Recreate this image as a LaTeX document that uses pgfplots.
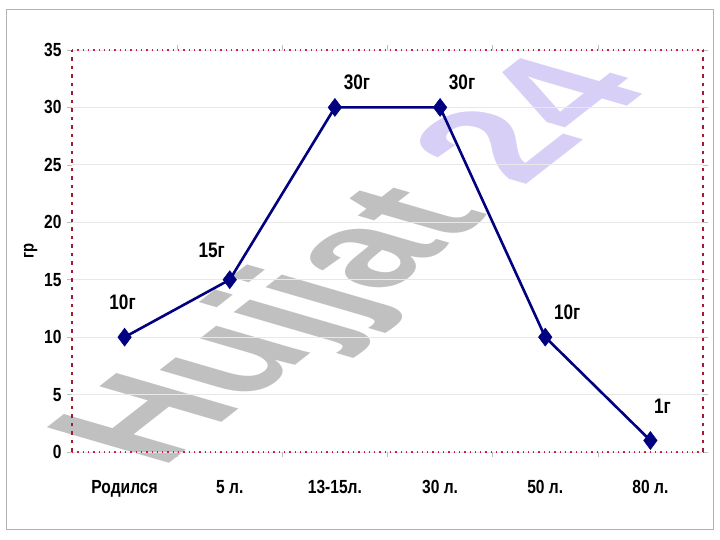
\documentclass[border=0pt]{standalone}
\usepackage{fontspec}
\setmainfont{Liberation Sans}[FakeStretch=0.82]
\newfontfamily\wmfont{Liberation Sans}
\usepackage{pgfplots}
\pgfplotsset{compat=1.18}
\definecolor{navy}{RGB}{0,0,128}
\definecolor{wmgray}{RGB}{192,192,192}
\definecolor{wmlav}{RGB}{216,207,247}
\definecolor{bord}{RGB}{205,30,70}
\definecolor{gridc}{RGB}{232,232,232}
\begin{document}
\begin{tikzpicture}
\useasboundingbox (0pt,0pt) rectangle (720pt,540pt);
\fill[white] (0pt,0pt) rectangle (720pt,540pt);
\draw[gray!60, line width=1pt] (6pt,10pt) rectangle (713pt,530pt);
% watermark
\node[rotate=38, xslant=-0.72, inner sep=0pt] at (362pt,276pt)
  {\wmfont\bfseries\fontsize{150}{150}\selectfont\textcolor{wmgray}{Hujjat} \textcolor{wmlav}{24}};
\begin{axis}[
  at={(72pt,88pt)}, anchor=south west,
  scale only axis, width=631pt, height=402pt,
  xmin=-0.5, xmax=5.5, ymin=0, ymax=35,
  xtick={0,1,2,3,4,5},
  xticklabels={Родился,5 л.,13-15л.,30 л.,50 л.,80 л.},
  major x tick style={draw=none},
  minor xtick={0.5,1.5,2.5,3.5,4.5},
  minor x tick style={gridc!60!gray, line width=0.6pt},
  ytick={0,5,...,35},
  ymajorgrids, major grid style={gridc, line width=0.8pt},
  y tick style={gridc!60!gray, line width=0.6pt},
  tick align=outside, major tick length=5pt, minor tick length=5pt,
  separate axis lines,
  every outer x axis line/.append style={bord, line width=1.3pt, dash pattern=on 1.3pt off 4pt},
  every outer y axis line/.append style={bord!80!black, line width=1.1pt, dash pattern=on 3.5pt off 5pt},
  tick label style={font=\bfseries\fontsize{19}{19}\selectfont},
  /pgf/number format/assume math mode=true,
  xticklabel style={yshift=-20pt},
  yticklabel style={xshift=-2pt},
  ylabel={гр},
  ylabel style={font=\bfseries\fontsize{18}{18}\selectfont, yshift=0pt},
  clip=false,
]
\addplot[navy, line width=2.6pt, mark=diamond*, mark size=9pt,
  mark options={solid, fill=navy, draw=navy, line width=0.5pt}]
  coordinates {(0,10) (1,15) (2,30) (3,30) (4,10) (5,1)};
\tikzset{dl/.style={font=\bfseries\fontsize{21}{21}\selectfont, inner sep=0pt}}
\node[dl, xshift=-2pt, yshift=35pt] at (axis cs:0,10) {10г};
\node[dl, xshift=-18pt, yshift=29pt] at (axis cs:1,15) {15г};
\node[dl, xshift=22pt, yshift=25pt] at (axis cs:2,30) {30г};
\node[dl, xshift=22pt, yshift=25pt] at (axis cs:3,30) {30г};
\node[dl, xshift=22pt, yshift=25pt] at (axis cs:4,10) {10г};
\node[dl, xshift=12pt, yshift=34pt] at (axis cs:5,1) {1г};
\end{axis}
\end{tikzpicture}
\end{document}
